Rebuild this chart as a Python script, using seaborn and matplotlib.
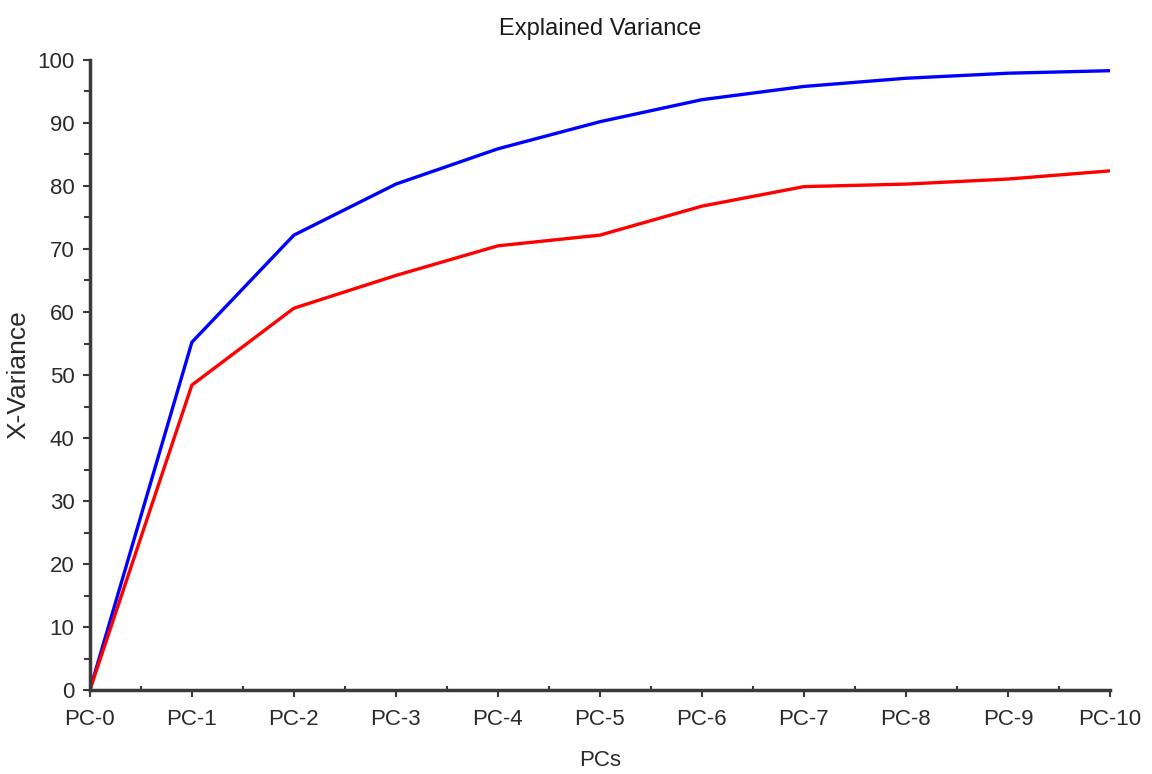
import matplotlib
matplotlib.use("Agg")
import matplotlib.pyplot as plt
import seaborn as sns
import pandas as pd
from matplotlib.ticker import MultipleLocator

pcs = ["PC-0", "PC-1", "PC-2", "PC-3", "PC-4", "PC-5", "PC-6", "PC-7", "PC-8", "PC-9", "PC-10"]
calibration = [0, 55.2, 72.2, 80.3, 85.9, 90.2, 93.7, 95.8, 97.1, 97.9, 98.3]
validation = [0, 48.4, 60.6, 65.8, 70.5, 72.2, 76.8, 79.9, 80.3, 81.1, 82.4]
series_names = ["Calibration", "Validation"]
series_colors = ["#0000ff", "#ff0000"]

sns.set_theme(style="white")
plt.rcParams['font.family'] = ["Liberation Sans", 'DejaVu Sans']

rows = []
for i, p in enumerate(pcs):
    rows.append({"idx": i, "val": calibration[i], "series": series_names[0]})
    rows.append({"idx": i, "val": validation[i], "series": series_names[1]})
df = pd.DataFrame(rows)

fig = plt.figure(figsize=(11.52, 7.74), dpi=100)
ax = fig.add_axes([0.078, 0.1085, 0.8855, 0.814])
sns.lineplot(data=df, x="idx", y="val", hue="series", palette=series_colors,
             linewidth=2.4, legend=False, ax=ax)

ax.set_xlim(0, len(pcs) - 1)
ax.set_ylim(0, 100)
ax.set_xticks(range(len(pcs)))
ax.set_xticklabels(pcs)
ax.yaxis.set_major_locator(MultipleLocator(10))
ax.yaxis.set_minor_locator(MultipleLocator(5))
ax.xaxis.set_minor_locator(MultipleLocator(0.5))

spine_col = "#3a3a3a"
txt_col = "#2a2a2a"
for s in ["top", "right"]:
    ax.spines[s].set_visible(False)
for s in ["left", "bottom"]:
    ax.spines[s].set_color(spine_col)
    ax.spines[s].set_linewidth(2.5)

ax.tick_params(axis="both", which="major", direction="out", length=5, width=1.5,
               color=spine_col, labelsize=16, labelcolor=txt_col, pad=6,
               left=True, bottom=True)
ax.tick_params(axis="x", which="major", pad=9)
ax.tick_params(axis="y", which="minor", direction="out", length=4, width=1.5,
               color=spine_col, left=True)
ax.tick_params(axis="x", which="minor", direction="in", length=3, width=1.5,
               color=spine_col, bottom=True)

ax.set_xlabel("PCs", fontsize=16, color=txt_col, labelpad=14)
ax.set_ylabel("X-Variance", fontsize=19, color=txt_col)
ax.yaxis.set_label_coords(-0.058, 0.5)
ax.set_title("Explained Variance", fontsize=17, color="#1a1a1a", pad=18)
ax.grid(False)

fig.savefig("out.png", dpi=100)
